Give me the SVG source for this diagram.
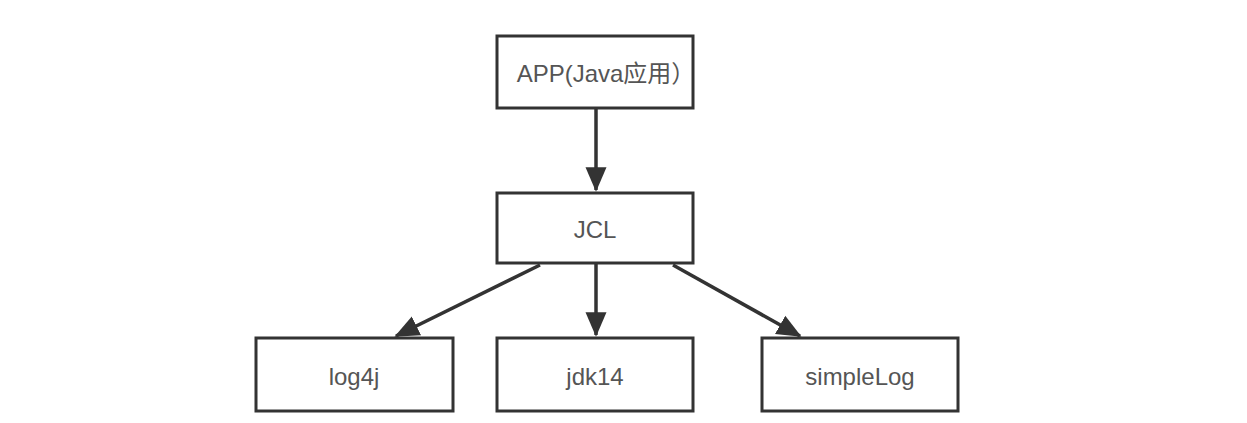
<svg xmlns="http://www.w3.org/2000/svg" width="1247" height="423" viewBox="0 0 1247 423">
<style>
.box{fill:#fff;stroke:#333;stroke-width:3}
.lbl{font-family:"Liberation Sans","Noto Sans CJK SC",sans-serif;font-size:24px;fill:#555;text-anchor:middle;dominant-baseline:central}
.edge{stroke:#333;stroke-width:3.5;fill:none;marker-end:url(#ah)}
</style>
<defs>
<marker id="ah" markerWidth="7" markerHeight="7" refX="6.5" refY="3" orient="auto" markerUnits="strokeWidth" viewBox="0 0 7 6">
<path d="M0,0 L7,3 L0,6 Z" fill="#333"/>
</marker>
</defs>
<rect width="1247" height="423" fill="#fff"/>
<g id="connectors">
<line class="edge" x1="596" y1="108" x2="596" y2="190"/>
<line class="edge" x1="540" y1="265" x2="396" y2="336"/>
<line class="edge" x1="596" y1="263" x2="596" y2="335"/>
<line class="edge" x1="673" y1="265" x2="800" y2="336"/>
</g>
<g id="app"><rect class="box" x="497" y="36" width="196" height="72"/><text class="lbl" x="606" y="73">APP(Java应用）</text></g>
<g id="jcl"><rect class="box" x="497" y="193" width="196" height="70"/><text class="lbl" x="595" y="229">JCL</text></g>
<g id="log4j"><rect class="box" x="256" y="338" width="197" height="73"/><text class="lbl" x="354" y="376">log4j</text></g>
<g id="jdk14"><rect class="box" x="497" y="338" width="196" height="73"/><text class="lbl" x="595" y="376">jdk14</text></g>
<g id="simplelog"><rect class="box" x="762" y="338" width="196" height="73"/><text class="lbl" x="860" y="376">simpleLog</text></g>
</svg>
